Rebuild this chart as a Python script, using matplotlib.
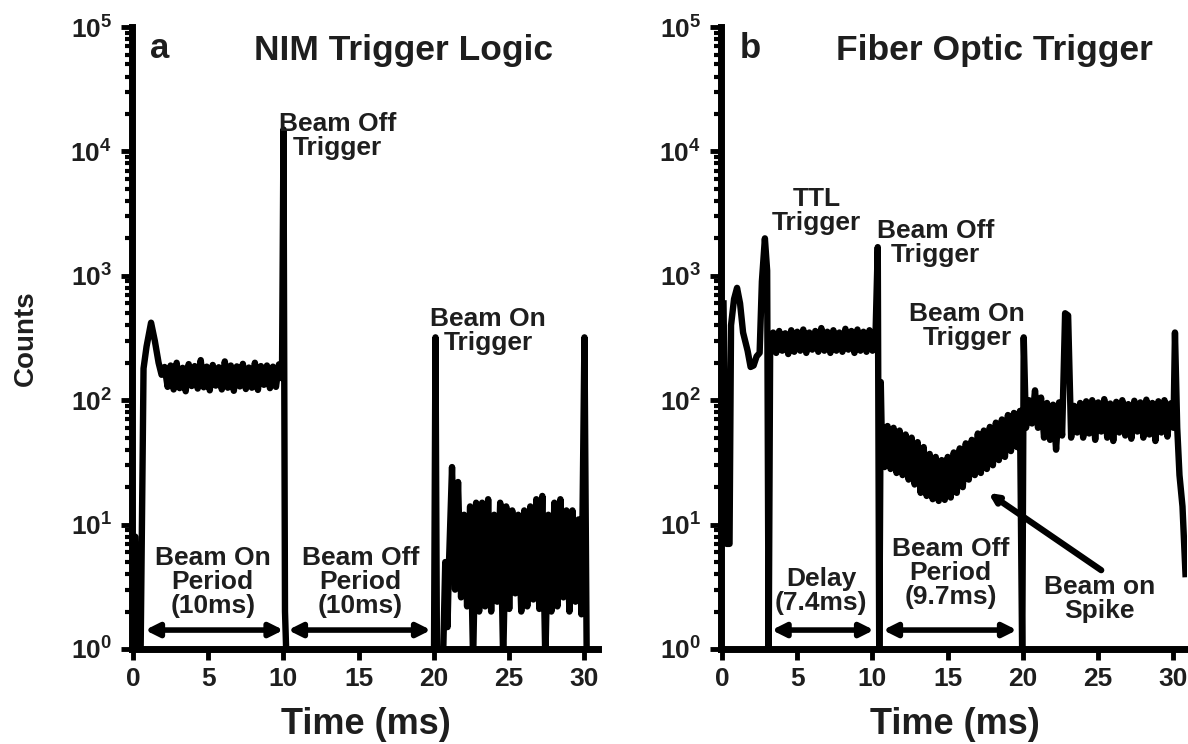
import numpy as np
import matplotlib
matplotlib.use('Agg')
from matplotlib import pyplot as plt
from matplotlib.ticker import FixedLocator, LogLocator, NullFormatter

plt.rcParams['font.family'] = ['Liberation Sans', 'DejaVu Sans']
plt.rcParams['font.weight'] = 'bold'
plt.rcParams['mathtext.fontset'] = 'custom'
plt.rcParams['mathtext.rm'] = 'Liberation Sans:bold'
plt.rcParams['mathtext.bf'] = 'Liberation Sans:bold'
plt.rcParams['mathtext.it'] = 'Liberation Sans:bold'

ZERO = 0.8   # empty bins, drawn just under the log axis

# ---- panel a : NIM trigger logic ----
nim_rise_t = [0.05, 0.15, 0.3, 0.5, 0.7, 0.9, 1.2, 1.45, 1.7]
nim_rise_c = [8, 8, ZERO, ZERO, 180, 270, 420, 300, 200]

nim_plateau_start, nim_plateau_step = 1.9, 0.2
nim_plateau_c = [160, 185, 128, 190, 122, 200, 125, 182, 118, 195, 130, 188, 124,
                 210, 127, 186, 120, 192, 131, 184, 122, 205, 126, 190, 119, 187,
                 129, 196, 123, 183, 126, 200, 121, 188, 133, 190, 125, 186, 128,
                 194, 150]

nim_off_t = [10.0, 10.1, 10.2, 20.0, 20.1, 20.2, 20.6, 20.75, 20.9]
nim_off_c = [15000, 2, ZERO, ZERO, 320, ZERO, ZERO, 5, 1.5]

nim_noise_start, nim_noise_step = 21.0, 0.2
nim_noise_c = [5, 29, 3, 22, 2.6, 12, 2.2, 14, ZERO, 15, 2.0, 15, 2.2, 16, 2.0,
               12, 2.4, 15, ZERO, 14, 2.1, 13, 2.8, 12, 2.0, 13, 2.2, 14, 2.5,
               16, 2.1, 17, ZERO, 12, 2.0, 15, 2.2, 16, 2.6, 13, 2.0, 13, 2.4,
               11, 1.9]

nim_end_t = [30.0, 30.15, 30.9]
nim_end_c = [320, ZERO, ZERO]

# ---- panel b : fiber optic trigger ----
fib_rise_t = [0.1, 0.3, 0.5, 0.6, 0.8, 1.0, 1.2, 1.4, 1.7, 1.9, 2.1, 2.3, 2.5,
              2.65, 2.85, 3.0, 3.1, 3.2]
fib_rise_c = [600, 7, 7, 400, 650, 800, 600, 350, 250, 185, 190, 225, 240,
              900, 2000, 1100, ZERO, 280]

fib_plateau_start, fib_plateau_step = 3.4, 0.2
fib_plateau_c = [350, 240, 360, 250, 345, 235, 365, 245, 355, 250, 370, 240, 350,
                 255, 360, 245, 380, 250, 355, 240, 365, 250, 350, 245, 375, 255,
                 360, 240, 370, 250, 355, 245, 365, 250, 330]

fib_off_t = [10.35, 10.45, 10.55]
fib_off_c = [1700, ZERO, 140]

fib_dip_start, fib_dip_step = 10.6, 0.2
fib_dip_c = [65, 29, 62, 28, 60, 26, 57, 25, 53, 23, 50, 21, 46, 18, 42, 17, 37,
             16, 35, 15.5, 33, 15.8, 35, 16.5, 38, 18, 41, 20, 45, 23, 48, 25, 54,
             26, 57, 28, 61, 30, 66, 33, 70, 35, 76, 39, 79, 42, 82]

fib_on_t = [19.95, 20.05, 20.2]
fib_on_c = [ZERO, 320, 60]

fib_after_start, fib_after_step = 20.4, 0.2
fib_after_c = [100, 65, 120, 60, 105, 50, 95, 48, 92, 40, 96, 52, 500, 480, 50,
               90, 55, 95, 50, 98, 54, 100, 48, 96, 56, 102, 50, 94, 47, 97, 55,
               100, 52, 93, 49, 99, 56, 96, 50, 101, 53, 95, 47, 98, 55, 100, 51,
               94, 60]

fib_end_t = [30.1, 30.25, 30.4, 30.6, 30.8]
fib_end_c = [350, 60, 25, 14, 4]

x_ticks = [0, 5, 10, 15, 20, 25, 30]
y_exponents = [0, 1, 2, 3, 4, 5]


def sampled(start, step, values):
    return start + step * np.arange(len(values)), list(values)


def trace(*parts):
    t = np.concatenate([np.asarray(p[0], float) for p in parts])
    c = np.concatenate([np.asarray(p[1], float) for p in parts])
    return t, c


nim_t, nim_c = trace((nim_rise_t, nim_rise_c),
                     sampled(nim_plateau_start, nim_plateau_step, nim_plateau_c),
                     (nim_off_t, nim_off_c),
                     sampled(nim_noise_start, nim_noise_step, nim_noise_c),
                     (nim_end_t, nim_end_c))

fib_t, fib_c = trace((fib_rise_t, fib_rise_c),
                     sampled(fib_plateau_start, fib_plateau_step, fib_plateau_c),
                     (fib_off_t, fib_off_c),
                     sampled(fib_dip_start, fib_dip_step, fib_dip_c),
                     (fib_on_t, fib_on_c),
                     sampled(fib_after_start, fib_after_step, fib_after_c),
                     (fib_end_t, fib_end_c))

TXT = '#1e1e1e'
W, H = 1188, 744

fig = plt.figure(figsize=(W / 100, H / 100), dpi=100)
axL = fig.add_axes([131.5 / W, 1 - 649 / H, 466.5 / W, 622 / H])
axR = fig.add_axes([720.5 / W, 1 - 649 / H, 466.5 / W, 622 / H])


def style(ax):
    ax.set_yscale('log')
    ax.set_xlim(-0.1, 30.9)
    ax.set_ylim(1, 1e5)
    for s in ['top', 'right']:
        ax.spines[s].set_visible(False)
    for s in ['left', 'bottom']:
        ax.spines[s].set_linewidth(5)
    ax.xaxis.set_major_locator(FixedLocator(x_ticks))
    ax.set_xticklabels([str(v) for v in x_ticks])
    ax.yaxis.set_major_locator(FixedLocator([10.0 ** e for e in y_exponents]))
    ax.set_yticklabels([r'$\mathbf{10^{%d}}$' % e for e in y_exponents])
    ax.yaxis.set_minor_locator(LogLocator(base=10, subs=np.arange(2, 10)))
    ax.yaxis.set_minor_formatter(NullFormatter())
    ax.tick_params(which='major', direction='out', length=8, width=3.5,
                   labelsize=19, colors='black', labelcolor=TXT)
    ax.tick_params(axis='y', which='major', pad=6)
    ax.tick_params(axis='x', which='major', pad=5)
    ax.tick_params(axis='y', which='minor', direction='out', length=5, width=3)


def period_arrow(ax, t0, t1, y=1.42):
    ax.annotate('', xy=(t1, y), xytext=(t0, y),
                arrowprops=dict(arrowstyle='<|-|>,head_length=0.4,head_width=0.2',
                                lw=4, color='black', shrinkA=0, shrinkB=0,
                                mutation_scale=20))


def note(ax, t, y, s, size=19):
    ax.text(t, y, s, ha='center', va='center', fontsize=size, color=TXT,
            fontweight='bold', linespacing=1.0)


for ax in (axL, axR):
    style(ax)

axL.plot(nim_t, nim_c, color='black', lw=4.6)
axR.plot(fib_t, fib_c, color='black', lw=4.6)

# panel a texts
axL.text(1.1, 10 ** 4.83, 'a', ha='left', va='center', fontsize=25, color=TXT)
axL.text(18.0, 10 ** 4.81, 'NIM Trigger Logic', ha='center', va='center',
         fontsize=25.5, color=TXT)
note(axL, 13.6, 10 ** 4.12, 'Beam Off\nTrigger')
note(axL, 23.6, 10 ** 2.56, 'Beam On\nTrigger')
note(axL, 5.3, 10 ** 0.54, 'Beam On\nPeriod\n(10ms)')
note(axL, 15.1, 10 ** 0.54, 'Beam Off\nPeriod\n(10ms)')
period_arrow(axL, 0.8, 10.0)
period_arrow(axL, 10.3, 19.8)

# panel b texts
axR.text(1.2, 10 ** 4.83, 'b', ha='left', va='center', fontsize=25, color=TXT)
axR.text(18.1, 10 ** 4.81, 'Fiber Optic Trigger', ha='center', va='center',
         fontsize=25.5, color=TXT)
note(axR, 6.3, 10 ** 3.52, 'TTL\nTrigger')
note(axR, 14.2, 10 ** 3.26, 'Beam Off\nTrigger')
note(axR, 16.3, 10 ** 2.6, 'Beam On\nTrigger')
note(axR, 6.6, 10 ** 0.47, 'Delay\n(7.4ms)')
note(axR, 15.2, 10 ** 0.61, 'Beam Off\nPeriod\n(9.7ms)')
note(axR, 25.1, 10 ** 0.40, 'Beam on\nSpike')
period_arrow(axR, 3.3, 10.1)
period_arrow(axR, 10.7, 19.6)
axR.annotate('', xy=(17.7, 18), xytext=(25.2, 4.3),
             arrowprops=dict(arrowstyle='-|>,head_length=0.25,head_width=0.12',
                             lw=4.5, color='black', shrinkA=0, shrinkB=0,
                             mutation_scale=20))

# axis titles
fig.text(26 / W, 1 - 338 / H, 'Counts', rotation=90, ha='center', va='center',
         fontsize=20, color=TXT)
fig.text(366 / W, 1 - 724 / H, 'Time (ms)', ha='center', va='center',
         fontsize=26, color=TXT)
fig.text(955 / W, 1 - 724 / H, 'Time (ms)', ha='center', va='center',
         fontsize=26, color=TXT)

fig.savefig('out.png', dpi=100)
